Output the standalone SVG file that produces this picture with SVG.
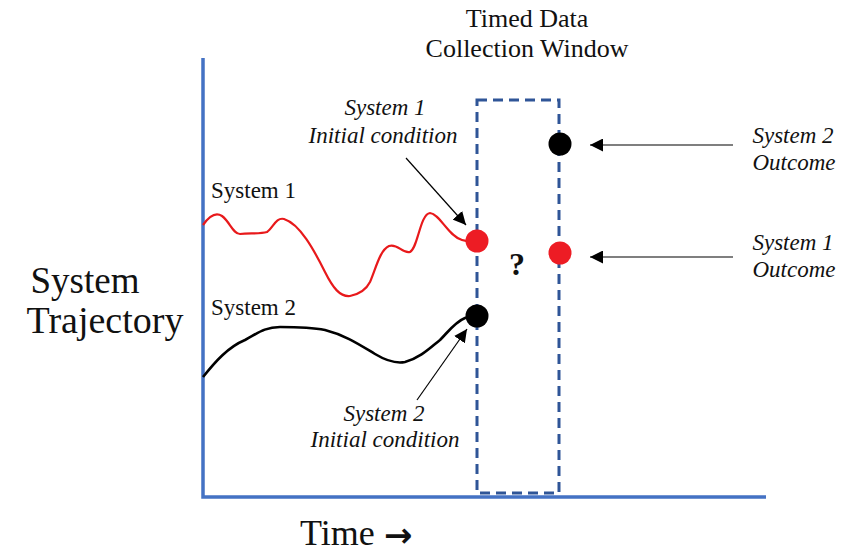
<svg xmlns="http://www.w3.org/2000/svg" width="841" height="557" viewBox="0 0 841 557">
  <style>
    .serif { font-family: "Liberation Serif", "Times New Roman", serif; fill: #111; }
    .lbl { font-size: 23px; }
    .ital { font-style: italic; font-size: 23px; text-anchor: middle; }
    .axis { stroke: #4472C4; stroke-width: 3.5; fill: none; }
    .window { stroke: #2F5597; stroke-width: 3; fill: none; stroke-dasharray: 10 6; }
    .conn { stroke: #000; stroke-width: 1.2; fill: none; marker-end: url(#head); }
  </style>
  <defs>
    <marker id="head" viewBox="0 0 10 10" refX="10" refY="5" markerWidth="13" markerHeight="13" markerUnits="userSpaceOnUse" orient="auto">
      <path d="M0,0 L10,5 L0,10 Z" fill="#000"/>
    </marker>
  </defs>
  <rect width="841" height="557" fill="#fff"/>

  <!-- axes -->
  <g id="axes">
    <path class="axis" d="M203,58 V497 H766"/>
    <text class="serif" x="85" y="293" font-size="37" text-anchor="middle">System</text>
    <text class="serif" x="105" y="333" font-size="38" text-anchor="middle">Trajectory</text>
    <text class="serif" x="300" y="545" font-size="36">Time</text>
    <text x="384" y="547" font-family="'DejaVu Sans', sans-serif" font-weight="bold" font-size="34" fill="#111">→</text>
  </g>

  <!-- data collection window -->
  <g id="window">
    <rect class="window" x="477" y="100" width="82" height="393"/>
    <text class="serif" x="527" y="27" font-size="26" text-anchor="middle">Timed Data</text>
    <text class="serif" x="527" y="57" font-size="26" text-anchor="middle">Collection Window</text>
    <text class="serif" x="517" y="275" font-size="32" font-weight="bold" text-anchor="middle">?</text>
  </g>

  <!-- system 1 trajectory -->
  <g id="system1">
    <path d="M203,225 C210,215 216,212 222,216 C230,222 233,234 240,234 C250,233 260,234 267,232 C273,228 276,217 284,219 C300,224 314,250 325,272 C333,288 340,297 350,296 C360,294 366,290 370,282 C376,268 380,250 389,246 C398,243 402,254 410,252 C418,248 420,214 430,213 C440,214 448,236 462,240 C468,242 472,241 477,241" stroke="#E8191B" stroke-width="2.2" fill="none"/>
    <circle cx="477" cy="241" r="11.5" fill="#ED1C24"/>
    <text class="serif lbl" x="211" y="198">System 1</text>
  </g>

  <!-- system 2 trajectory -->
  <g id="system2">
    <path d="M203,377 C215,362 228,347 245,340 C258,333 265,327 280,327 C295,327 310,327 325,330 C345,335 360,345 375,354 C385,360 395,364 405,362 C420,358 430,348 440,340 C448,332 455,322 465,318 C470,316 474,316 477,316" stroke="#000" stroke-width="2.6" fill="none"/>
    <circle cx="477" cy="316" r="11.5" fill="#000"/>
    <text class="serif lbl" x="211" y="315">System 2</text>
  </g>

  <!-- outcomes -->
  <g id="outcome2">
    <circle cx="560" cy="144" r="11.5" fill="#000"/>
    <text class="serif ital" x="793" y="143">System 2</text>
    <text class="serif ital" x="794" y="170">Outcome</text>
  </g>
  <g id="outcome1">
    <circle cx="560" cy="253" r="11.5" fill="#ED1C24"/>
    <text class="serif ital" x="793" y="250">System 1</text>
    <text class="serif ital" x="794" y="277">Outcome</text>
  </g>

  <!-- initial condition labels -->
  <g id="init1">
    <text class="serif ital" x="385" y="115">System 1</text>
    <text class="serif ital" x="383" y="143">Initial condition</text>
  </g>
  <g id="init2">
    <text class="serif ital" x="384" y="421">System 2</text>
    <text class="serif ital" x="385" y="447">Initial condition</text>
  </g>

  <!-- connectors -->
  <g id="connectors">
    <line class="conn" x1="406" y1="158" x2="466" y2="225"/>
    <line class="conn" x1="417" y1="400" x2="467" y2="329"/>
    <line class="conn" x1="733" y1="145" x2="590" y2="145"/>
    <line class="conn" x1="733" y1="257" x2="590" y2="257"/>
  </g>
</svg>
